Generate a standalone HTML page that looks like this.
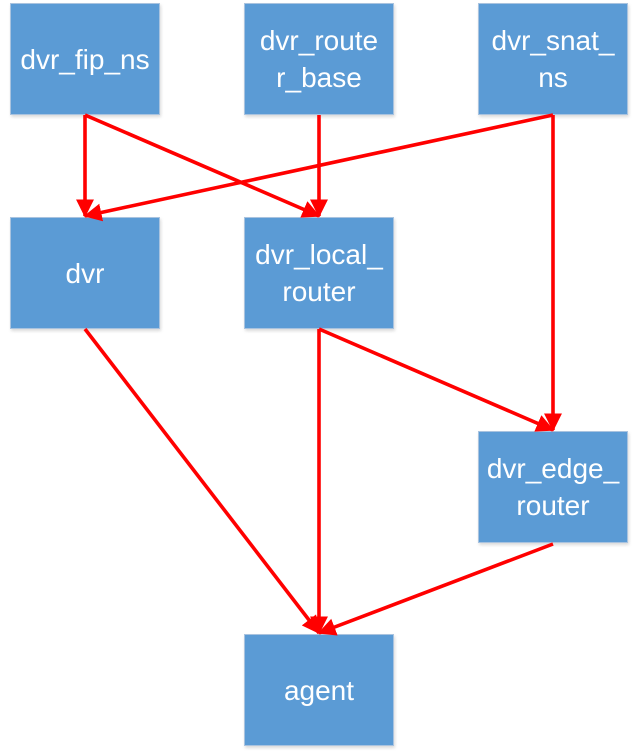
<!DOCTYPE html>
<html><head><meta charset="utf-8"><style>
body{margin:0;width:639px;height:755px;background:#fff;position:relative;overflow:hidden;font-family:"Liberation Sans",sans-serif}
.b{position:absolute;width:150px;height:112px;background:#5B9BD5;border:1px solid #a9c3df;box-sizing:border-box;color:#fff;font-size:28px;line-height:37px;display:flex;align-items:center;justify-content:center;text-align:center;box-shadow:1px 2px 3px rgba(0,0,0,0.15);white-space:nowrap}
svg{position:absolute;left:0;top:0}
</style></head><body>
<div class="b" style="left:10px;top:3px">dvr_fip_ns</div>
<div class="b" style="left:244px;top:3px">dvr_route<br>r_base</div>
<div class="b" style="left:478px;top:3px">dvr_snat_<br>ns</div>
<div class="b" style="left:10px;top:217px">dvr</div>
<div class="b" style="left:244px;top:217px">dvr_local_<br>router</div>
<div class="b" style="left:478px;top:431px">dvr_edge_<br>router</div>
<div class="b" style="left:244px;top:634px">agent</div>
<svg width="639" height="755">
<defs><marker id="a" markerWidth="5" markerHeight="5" refX="4.6" refY="2.5" orient="auto" markerUnits="strokeWidth"><path d="M0,0 L5,2.5 L0,5 z" fill="#f00"/></marker></defs>
<g stroke="#f00" stroke-width="3.6" fill="none" marker-end="url(#a)">
<line x1="85" y1="115" x2="85" y2="216"/>
<line x1="85" y1="115" x2="319" y2="216"/>
<line x1="319" y1="115" x2="319" y2="216"/>
<line x1="553" y1="115" x2="85" y2="216"/>
<line x1="553" y1="115" x2="553" y2="430"/>
<line x1="319" y1="329" x2="553" y2="430"/>
<line x1="319" y1="329" x2="319" y2="633"/>
<line x1="85" y1="329" x2="319" y2="633"/>
<line x1="553" y1="544" x2="319" y2="633"/>
</g></svg>
</body></html>
